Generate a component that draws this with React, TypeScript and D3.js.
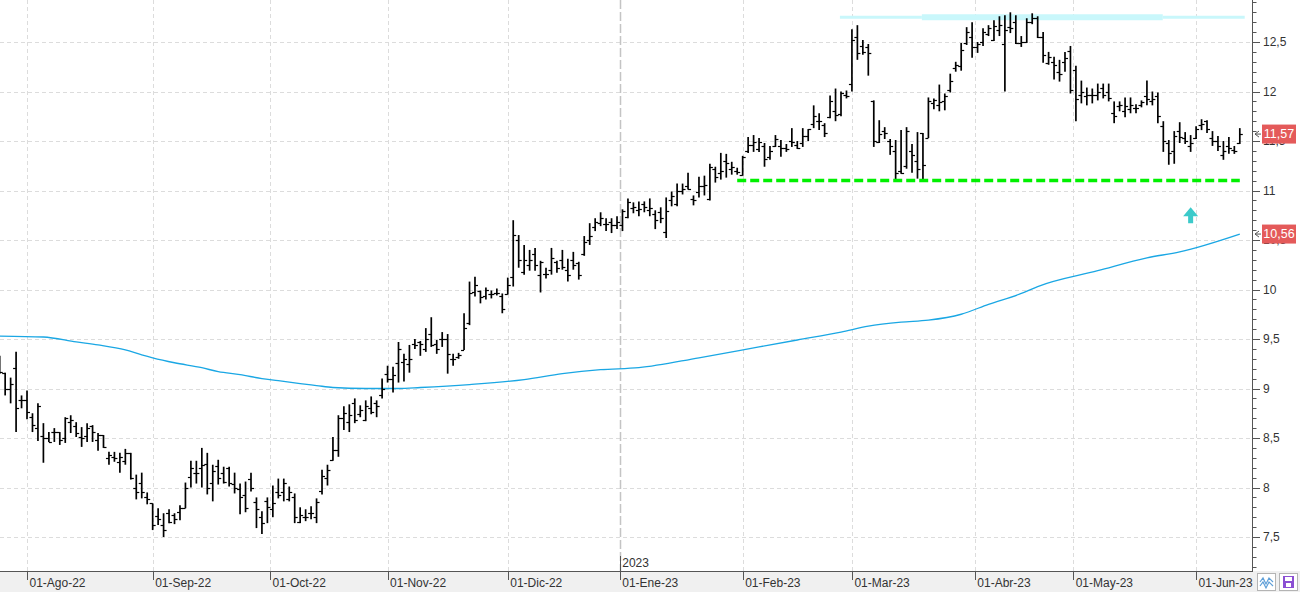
import React from 'react';
import * as d3 from 'd3';

// daily OHLC: [open, high, low, close]
type Bar = [number, number, number, number];

const bars: Bar[] = [
  // late Jul / Aug 2022
  [9.28, 9.33, 9.15, 9.17], [9.16, 9.16, 8.93, 9.00], [8.99, 9.11, 8.85, 9.05], [9.21, 9.37, 8.56, 8.80],
  [8.88, 8.93, 8.80, 8.88], [8.88, 8.98, 8.69, 8.76], [8.71, 8.75, 8.56, 8.63], [8.60, 8.85, 8.47, 8.82],
  [8.52, 8.65, 8.25, 8.50], [8.50, 8.56, 8.46, 8.46], [8.56, 8.60, 8.46, 8.56], [8.56, 8.56, 8.43, 8.48],
  [8.50, 8.71, 8.45, 8.70], [8.66, 8.73, 8.55, 8.68], [8.62, 8.66, 8.51, 8.55], [8.51, 8.61, 8.41, 8.50],
  [8.52, 8.65, 8.46, 8.60], [8.62, 8.63, 8.46, 8.56], [8.48, 8.55, 8.37, 8.53], [8.53, 8.53, 8.40, 8.41],
  [8.30, 8.36, 8.23, 8.33], [8.31, 8.36, 8.26, 8.30], [8.26, 8.35, 8.15, 8.31], [8.27, 8.39, 8.23, 8.35],
  [8.35, 8.35, 8.08, 8.10], [8.00, 8.13, 7.88, 7.95], [8.05, 8.15, 7.89, 7.95], [7.90, 7.95, 7.83, 7.88],
  // Sep
  [7.84, 7.84, 7.57, 7.62], [7.71, 7.79, 7.62, 7.68], [7.62, 7.74, 7.50, 7.57], [7.74, 7.78, 7.64, 7.65],
  [7.72, 7.74, 7.63, 7.68], [7.75, 7.82, 7.67, 7.79], [7.79, 8.05, 7.79, 8.00], [8.11, 8.27, 8.00, 8.20],
  [8.15, 8.27, 8.04, 8.15], [8.20, 8.40, 8.00, 8.23], [8.24, 8.35, 7.93, 8.00], [8.05, 8.23, 7.86, 8.17],
  [8.22, 8.28, 8.03, 8.10], [8.15, 8.21, 8.04, 8.06], [8.20, 8.21, 8.01, 8.05], [8.04, 8.15, 7.94, 8.00],
  [7.98, 8.04, 7.73, 7.90], [7.92, 8.06, 7.75, 7.79], [8.09, 8.15, 7.96, 8.00], [7.85, 7.90, 7.59, 7.78],
  [7.70, 7.76, 7.53, 7.64], [7.86, 7.90, 7.64, 7.80],
  // Oct
  [7.78, 8.02, 7.70, 7.84], [7.95, 8.09, 7.89, 7.92], [7.95, 8.09, 7.86, 8.05], [7.88, 8.01, 7.86, 7.95],
  [7.90, 7.94, 7.64, 7.70], [7.65, 7.80, 7.64, 7.72], [7.70, 7.78, 7.66, 7.70], [7.74, 7.81, 7.68, 7.74],
  [7.70, 7.89, 7.64, 7.85], [7.96, 8.18, 7.93, 8.12], [8.10, 8.23, 8.02, 8.18], [8.28, 8.51, 8.27, 8.38],
  [8.38, 8.73, 8.31, 8.70], [8.70, 8.82, 8.58, 8.75], [8.66, 8.84, 8.56, 8.73], [8.85, 8.90, 8.65, 8.68],
  [8.74, 8.83, 8.71, 8.78], [8.68, 8.88, 8.67, 8.82], [8.80, 8.92, 8.74, 8.76], [8.85, 8.88, 8.71, 8.82],
  [8.93, 9.10, 8.90, 9.00],
  // Nov
  [9.15, 9.23, 9.06, 9.10], [9.10, 9.22, 8.96, 9.14], [9.26, 9.47, 9.06, 9.40], [9.27, 9.35, 9.07, 9.30],
  [9.25, 9.44, 9.16, 9.30], [9.45, 9.50, 9.40, 9.44], [9.47, 9.48, 9.33, 9.45], [9.40, 9.61, 9.37, 9.50],
  [9.55, 9.72, 9.42, 9.44], [9.45, 9.49, 9.35, 9.40], [9.50, 9.57, 9.42, 9.50], [9.50, 9.55, 9.15, 9.35],
  [9.30, 9.35, 9.23, 9.30], [9.32, 9.36, 9.30, 9.34], [9.39, 9.76, 9.39, 9.61], [9.66, 10.08, 9.64, 9.96],
  [9.97, 10.13, 9.93, 10.05], [9.98, 9.99, 9.86, 9.92], [9.93, 10.02, 9.90, 10.00], [9.95, 9.99, 9.91, 9.95],
  [9.96, 10.01, 9.94, 9.96], [9.93, 9.96, 9.76, 9.80],
  // Dec
  [9.95, 10.12, 9.95, 10.05], [10.13, 10.70, 10.03, 10.55], [10.50, 10.55, 10.22, 10.30], [10.18, 10.45, 10.15, 10.30],
  [10.25, 10.40, 10.19, 10.30], [10.36, 10.42, 10.19, 10.25], [10.15, 10.29, 9.97, 10.28], [10.16, 10.22, 10.11, 10.16],
  [10.20, 10.42, 10.15, 10.32], [10.28, 10.29, 10.17, 10.22], [10.30, 10.40, 10.20, 10.23], [10.20, 10.31, 10.08, 10.15],
  [10.30, 10.38, 10.20, 10.25], [10.27, 10.28, 10.10, 10.15], [10.36, 10.54, 10.34, 10.48], [10.50, 10.67, 10.45, 10.54],
  [10.63, 10.72, 10.59, 10.68], [10.67, 10.78, 10.64, 10.72], [10.66, 10.72, 10.59, 10.66], [10.68, 10.72, 10.57, 10.65],
  [10.65, 10.74, 10.61, 10.68],
  // Jan 2023
  [10.65, 10.81, 10.59, 10.79], [10.73, 10.92, 10.72, 10.88], [10.82, 10.88, 10.77, 10.83], [10.80, 10.89, 10.74, 10.81],
  [10.86, 10.89, 10.78, 10.83], [10.80, 10.92, 10.74, 10.82], [10.76, 10.80, 10.61, 10.70], [10.78, 10.83, 10.67, 10.72],
  [10.58, 10.93, 10.52, 10.79], [10.90, 10.99, 10.84, 10.94], [10.86, 11.07, 10.84, 11.00], [11.00, 11.07, 10.96, 11.02],
  [11.05, 11.18, 11.01, 11.02], [10.91, 10.95, 10.85, 10.90], [10.98, 11.14, 10.93, 11.05], [11.05, 11.15, 10.95, 11.06],
  [10.91, 11.27, 10.90, 11.24], [11.22, 11.24, 11.08, 11.14], [11.18, 11.38, 11.11, 11.20], [11.30, 11.37, 11.13, 11.28],
  [11.22, 11.29, 11.16, 11.24], [11.20, 11.23, 11.16, 11.19],
  // Feb
  [11.16, 11.35, 11.15, 11.34], [11.40, 11.54, 11.38, 11.46], [11.46, 11.56, 11.39, 11.49], [11.42, 11.53, 11.39, 11.49],
  [11.45, 11.48, 11.24, 11.32], [11.34, 11.45, 11.31, 11.40], [11.45, 11.56, 11.44, 11.52], [11.45, 11.51, 11.34, 11.43],
  [11.43, 11.47, 11.39, 11.42], [11.50, 11.63, 11.44, 11.49], [11.46, 11.50, 11.42, 11.43], [11.48, 11.63, 11.44, 11.55],
  [11.55, 11.62, 11.50, 11.62], [11.67, 11.86, 11.63, 11.75], [11.70, 11.78, 11.61, 11.70], [11.66, 11.68, 11.54, 11.58],
  [11.74, 11.96, 11.73, 11.90], [11.80, 12.03, 11.70, 11.76], [11.77, 12.00, 11.75, 11.98], [11.96, 12.01, 11.93, 11.95],
  // Mar
  [12.08, 12.63, 12.00, 12.52], [12.55, 12.67, 12.32, 12.39], [12.46, 12.52, 12.37, 12.40], [12.45, 12.48, 12.16, 12.39],
  [11.90, 11.91, 11.44, 11.50], [11.49, 11.71, 11.48, 11.57], [11.60, 11.64, 11.52, 11.58], [11.50, 11.52, 11.36, 11.45],
  [11.40, 11.51, 11.10, 11.18], [11.20, 11.61, 11.17, 11.18], [11.25, 11.64, 11.22, 11.60], [11.40, 11.47, 11.18, 11.36],
  [11.30, 11.59, 11.12, 11.22], [11.58, 11.58, 11.11, 11.26], [11.53, 11.94, 11.53, 11.90], [11.88, 11.93, 11.82, 11.91],
  [11.86, 12.07, 11.80, 11.89], [11.90, 11.98, 11.81, 11.95], [12.02, 12.18, 11.99, 12.11], [12.24, 12.30, 12.20, 12.27],
  [12.26, 12.49, 12.21, 12.42], [12.49, 12.65, 12.47, 12.60], [12.55, 12.70, 12.34, 12.45],
  // Apr
  [12.45, 12.50, 12.39, 12.48], [12.50, 12.64, 12.46, 12.60], [12.58, 12.67, 12.56, 12.64], [12.52, 12.72, 12.51, 12.66],
  [12.62, 12.76, 12.56, 12.67], [12.48, 12.77, 12.00, 12.62], [12.65, 12.80, 12.59, 12.64], [12.70, 12.77, 12.48, 12.49],
  [12.49, 12.56, 12.45, 12.50], [12.50, 12.74, 12.49, 12.70], [12.70, 12.79, 12.68, 12.74], [12.74, 12.76, 12.54, 12.55],
  [12.55, 12.60, 12.29, 12.37], [12.29, 12.40, 12.27, 12.35], [12.30, 12.35, 12.12, 12.27], [12.20, 12.32, 12.10, 12.18],
  [12.30, 12.40, 12.20, 12.34], [12.41, 12.46, 11.98, 12.02],
  // May
  [12.22, 12.26, 11.70, 11.92], [11.96, 12.11, 11.88, 12.00], [11.95, 12.04, 11.86, 11.96], [11.96, 12.03, 11.88, 11.96],
  [11.96, 12.08, 11.91, 12.00], [12.04, 12.08, 11.93, 11.96], [12.00, 12.08, 11.90, 11.93], [11.78, 11.90, 11.68, 11.75],
  [11.85, 11.90, 11.80, 11.86], [11.80, 11.94, 11.74, 11.85], [11.82, 11.94, 11.78, 11.86], [11.83, 11.87, 11.78, 11.83],
  [11.86, 11.91, 11.84, 11.89], [11.95, 12.11, 11.86, 11.92], [11.90, 12.00, 11.86, 11.92], [11.95, 11.99, 11.68, 11.75],
  [11.65, 11.70, 11.39, 11.50], [11.48, 11.51, 11.26, 11.38], [11.40, 11.60, 11.27, 11.55], [11.60, 11.69, 11.48, 11.54],
  [11.53, 11.59, 11.47, 11.50], [11.45, 11.56, 11.39, 11.48],
  // Jun
  [11.53, 11.65, 11.52, 11.62], [11.66, 11.72, 11.61, 11.67], [11.70, 11.71, 11.58, 11.62], [11.53, 11.60, 11.45, 11.50],
  [11.50, 11.55, 11.40, 11.45], [11.36, 11.50, 11.31, 11.40], [11.45, 11.54, 11.37, 11.43], [11.41, 11.45, 11.37, 11.40],
  [11.48, 11.63, 11.47, 11.57],
];

// moving average, sampled at bar indices
const maIndex = [0, 8, 14, 18, 23, 26, 28, 32, 37, 40, 44, 48, 51, 55, 58, 61, 67, 73, 77, 86,
  96, 103, 110, 117, 128, 139, 146, 154, 159, 165, 170, 176, 181, 187, 190, 201, 210, 216, 227];
const maValue = [9.53, 9.52, 9.47, 9.44, 9.39, 9.34, 9.31, 9.26, 9.21, 9.17, 9.14, 9.10, 9.08, 9.05, 9.03, 9.01, 9.00, 9.00, 9.01, 9.04,
  9.09, 9.15, 9.19, 9.21, 9.31, 9.42, 9.49, 9.57, 9.63, 9.67, 9.69, 9.75, 9.85, 9.96, 10.03, 10.19, 10.32, 10.38, 10.56];

// first day of each month, in bar units (weekend / holiday starts sit between two bars)
const monthTicks = [5, 28, 49.5, 71, 93, 113.5, 136, 156, 178.5, 196.5, 219];
const monthLabels = ['01-Ago-22', '01-Sep-22', '01-Oct-22', '01-Nov-22', '01-Dic-22', '01-Ene-23',
  '01-Feb-23', '01-Mar-23', '01-Abr-23', '01-May-23', '01-Jun-23'];
const yearTick = 113.5;
const yearLabel = '2023';

const yLabels = [7.5, 8, 8.5, 9, 9.5, 10, 10.5, 11, 11.5, 12, 12.5];

// drawn studies
const supportLine = { from: 135, to: 227, value: 11.1 };
const resistanceBand = [
  { from: 153.8, to: 168.8, value: 12.75, weight: 3 },
  { from: 168.8, to: 212.9, value: 12.75, weight: 6 },
  { from: 212.9, to: 227.9, value: 12.75, weight: 3 },
];
const arrowAt = { index: 218, value: 10.83 };

const W = 1300;
const H = 592;
const plotRight = 1252;
const plotBottom = 571;
const font = "'Segoe UI', 'Liberation Sans', Arial, sans-serif";

const es = d3.formatLocale({ decimal: ',', thousands: '.', grouping: [3], currency: ['', ''] });
const fmtTick = es.format('.1~f');
const fmtTag = es.format('.2f');

const App: React.FC = () => {
  const ref = React.useRef<SVGSVGElement>(null);

  React.useEffect(() => {
    const svg = d3.select(ref.current);
    svg.selectAll('*').remove();

    const x = d3.scaleLinear().domain([0, bars.length - 1]).range([-0.3, 1239.8]);
    const y = d3.scaleLinear().domain([7.5, 12.5]).range([537, 42]);
    const px = (v: number) => Math.round(v) + 0.5;

    svg.append('rect').attr('width', W).attr('height', H).attr('fill', '#fff');

    // grid
    svg.append('g')
      .selectAll('line')
      .data(yLabels)
      .join('line')
        .attr('x1', 0)
        .attr('x2', plotRight)
        .attr('y1', d => px(y(d)))
        .attr('y2', d => px(y(d)))
        .attr('stroke', '#dcdcdc')
        .attr('stroke-dasharray', '4,3')
    ;

    svg.append('g')
      .selectAll('line')
      .data(monthTicks.filter(t => t !== yearTick))
      .join('line')
        .attr('x1', d => px(x(d)))
        .attr('x2', d => px(x(d)))
        .attr('y1', 0)
        .attr('y2', plotBottom)
        .attr('stroke', '#dcdcdc')
        .attr('stroke-dasharray', '4,3')
    ;

    svg.append('line')
      .attr('x1', px(x(yearTick)))
      .attr('x2', px(x(yearTick)))
      .attr('y1', 0)
      .attr('y2', plotBottom)
      .attr('stroke', '#c4c4c4')
      .attr('stroke-width', 1.5)
      .attr('stroke-dasharray', '9,3')
    ;

    // resistance band
    svg.append('g')
      .selectAll('line')
      .data(resistanceBand)
      .join('line')
        .attr('x1', d => x(d.from))
        .attr('x2', d => x(d.to))
        .attr('y1', d => y(d.value))
        .attr('y2', d => y(d.value))
        .attr('stroke', '#c9f7fb')
        .attr('stroke-width', d => d.weight)
    ;

    // moving average
    const ma = d3.line<number>()
      .x(d => x(d))
      .y((_, i) => y(maValue[i]))
      .curve(d3.curveMonotoneX);
    svg.append('path')
      .attr('d', ma(maIndex))
      .attr('fill', 'none')
      .attr('stroke', '#1aa7e4')
      .attr('stroke-width', 1.3)
    ;

    // OHLC bars
    const g = svg.append('g').attr('stroke', '#000');
    const bar = g.selectAll('g').data(bars).join('g');
    bar.append('line')
      .attr('x1', (_, i) => x(i))
      .attr('x2', (_, i) => x(i))
      .attr('y1', d => y(d[1]))
      .attr('y2', d => y(d[2]))
      .attr('stroke-width', 1.7)
    ;
    bar.append('line')
      .attr('x1', (_, i) => x(i) - 3)
      .attr('x2', (_, i) => x(i))
      .attr('y1', d => px(y(d[0])))
      .attr('y2', d => px(y(d[0])))
      .attr('stroke-width', 1.2)
    ;
    bar.append('line')
      .attr('x1', (_, i) => x(i))
      .attr('x2', (_, i) => x(i) + 3)
      .attr('y1', d => px(y(d[3])))
      .attr('y2', d => px(y(d[3])))
      .attr('stroke-width', 1.2)
    ;

    // support
    svg.append('line')
      .attr('x1', x(supportLine.from))
      .attr('x2', x(supportLine.to))
      .attr('y1', y(supportLine.value))
      .attr('y2', y(supportLine.value))
      .attr('stroke', '#00f000')
      .attr('stroke-width', 3.5)
      .attr('stroke-dasharray', '9,4')
    ;

    // arrow mark
    const ax = x(arrowAt.index);
    const ay = y(arrowAt.value);
    svg.append('path')
      .attr('d', `M${ax},${ay} L${ax + 7.5},${ay + 9} L${ax + 2.5},${ay + 9} L${ax + 2.5},${ay + 16} L${ax - 2.5},${ay + 16} L${ax - 2.5},${ay + 9} L${ax - 7.5},${ay + 9} Z`)
      .attr('fill', '#3ccaca')
    ;

    // right axis
    const ra = svg.append('g');
    ra.append('line')
      .attr('x1', plotRight + 0.5).attr('x2', plotRight + 0.5)
      .attr('y1', 0).attr('y2', plotBottom)
      .attr('stroke', '#555');
    ra.selectAll('.minor')
      .data(d3.range(72, 130).map(v => v / 10))
      .join('line')
        .attr('class', 'minor')
        .attr('x1', plotRight)
        .attr('x2', d => (Math.round(d * 10) % 5 === 0 ? plotRight + 8 : plotRight + 4.5))
        .attr('y1', d => px(y(d)))
        .attr('y2', d => px(y(d)))
        .attr('stroke', '#555')
    ;
    ra.selectAll('text')
      .data(yLabels)
      .join('text')
        .attr('x', plotRight + 11)
        .attr('y', d => y(d))
        .attr('dy', '0.35em')
        .attr('font-family', font)
        .attr('font-size', 12)
        .attr('fill', '#333')
        .text(d => fmtTick(d))
    ;

    // value tags
    const tags = [bars[bars.length - 1][3], maValue[maValue.length - 1]];
    const tag = ra.selectAll('.tag').data(tags).join('g').attr('class', 'tag');
    tag.append('path')
      .attr('d', d => `M${plotRight + 7},${y(d) - 3} L${plotRight + 3},${y(d)} L${plotRight + 7},${y(d) + 3} M${plotRight + 3},${y(d)} L${plotRight + 9},${y(d)}`)
      .attr('fill', 'none')
      .attr('stroke', '#555');
    tag.append('rect')
      .attr('x', plotRight + 10)
      .attr('y', d => y(d) - 9.5)
      .attr('width', 34)
      .attr('height', 19)
      .attr('fill', '#e45a5a');
    tag.append('text')
      .attr('x', plotRight + 27)
      .attr('y', d => y(d))
      .attr('dy', '0.35em')
      .attr('text-anchor', 'middle')
      .attr('font-family', font)
      .attr('font-size', 12.5)
      .attr('fill', '#fff')
      .text(d => fmtTag(d));

    // bottom axis
    const ba = svg.append('g');
    ba.append('rect')
      .attr('x', 0).attr('y', plotBottom)
      .attr('width', W).attr('height', H - plotBottom)
      .attr('fill', '#f0f0f0');
    ba.append('line')
      .attr('x1', 0).attr('x2', plotRight + 1)
      .attr('y1', plotBottom + 0.5).attr('y2', plotBottom + 0.5)
      .attr('stroke', '#555');
    ba.selectAll('.mt')
      .data(monthTicks)
      .join('line')
        .attr('class', 'mt')
        .attr('x1', d => px(x(d)))
        .attr('x2', d => px(x(d)))
        .attr('y1', plotBottom)
        .attr('y2', plotBottom + 9)
        .attr('stroke', '#555')
    ;
    ba.selectAll('text')
      .data(monthTicks)
      .join('text')
        .attr('x', d => x(d) + 2.5)
        .attr('y', plotBottom + 12)
        .attr('dy', '0.35em')
        .attr('font-family', font)
        .attr('font-size', 12)
        .attr('fill', '#333')
        .text((_, i) => monthLabels[i])
    ;
    svg.append('line')
      .attr('x1', px(x(yearTick))).attr('x2', px(x(yearTick)))
      .attr('y1', plotBottom - 15).attr('y2', plotBottom)
      .attr('stroke', '#555');
    svg.append('text')
      .attr('x', x(yearTick) + 2.5)
      .attr('y', plotBottom - 8)
      .attr('dy', '0.35em')
      .attr('font-family', font)
      .attr('font-size', 12)
      .attr('fill', '#333')
      .text(yearLabel);

    // toolbar icons
    const ic = svg.append('g');
    ic.append('rect').attr('x', 1257.5).attr('y', 573.5).attr('width', 18).attr('height', 17)
      .attr('fill', '#fff').attr('stroke', '#b4b4b4');
    ic.append('path')
      .attr('d', 'M1260,582 L1263,578 L1266,584 L1269,578 L1273,582 M1260,586 L1263,582 L1266,588 L1269,582 L1273,586')
      .attr('fill', 'none').attr('stroke', '#5f9fd8').attr('stroke-width', 1.2);
    ic.append('rect').attr('x', 1279.5).attr('y', 573.5).attr('width', 18).attr('height', 17)
      .attr('fill', '#fff').attr('stroke', '#b4b4b4');
    ic.append('rect').attr('x', 1283).attr('y', 576).attr('width', 11).attr('height', 12).attr('fill', '#8b4fd3');
    ic.append('rect').attr('x', 1285).attr('y', 577).attr('width', 7).attr('height', 4).attr('fill', '#fff');
    ic.append('rect').attr('x', 1286).attr('y', 583).attr('width', 5).attr('height', 4).attr('fill', '#fff');
  }, []);

  return (
    <svg
      ref={ref}
      width={W}
      height={H}
      style={{ position: 'absolute', left: 0, top: 0, display: 'block' }}
    />
  );
};

export default App;
